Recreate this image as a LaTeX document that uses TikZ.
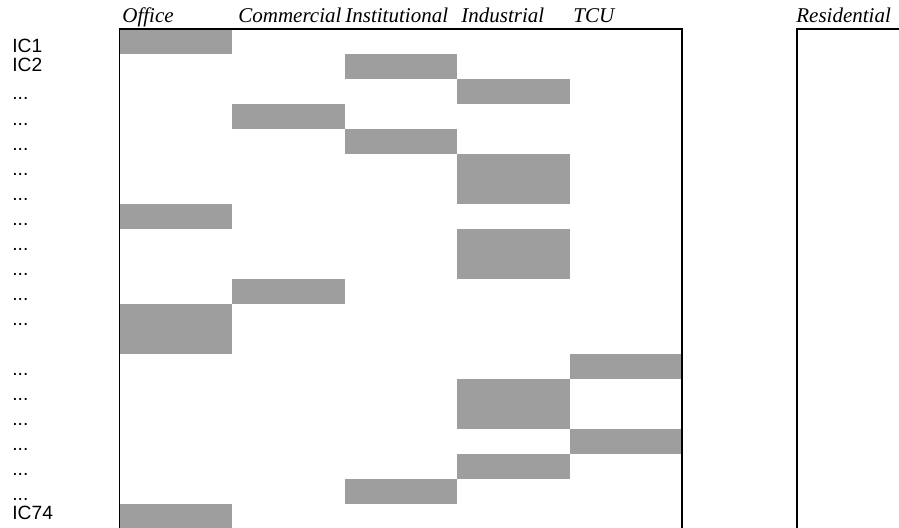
\documentclass[tikz,border=0pt]{standalone}
\usepackage{fontspec}
\setmainfont{Liberation Serif}
\newfontfamily\lblfont{Liberation Sans}
\tikzset{
  hdr/.style   ={anchor=base west, inner sep=0pt, font=\fontsize{10.5}{12}\selectfont\itshape},
  rowlbl/.style={anchor=base west, inner sep=0pt, font=\lblfont\fontsize{9.6}{11}\selectfont},
  cell/.style  ={fill=black!38},
  frm/.style   ={draw=black, line width=0.75pt},
}

\begin{document}
\begin{tikzpicture}[x=0.5pt, y=-0.5pt]
  \clip (0,0) rectangle (899,527);
  \useasboundingbox (0,0) rectangle (899,527);
  \node[hdr] (hOffice) at (122,22) {Office};
  \node[hdr] (hComm)   at (238,22) {Commercial};
  \node[hdr] (hInst)   at (345,22) {Institutional};
  \node[hdr] (hInd)    at (461,22) {Industrial};
  \node[hdr] (hTCU)    at (573,22) {TCU};
  \node[hdr] (hRes)    at (796,22) {Residential};
  \node[rowlbl] (lIC1)  at (12,52.5) {IC1};
  \node[rowlbl] (lIC2)  at (12,71) {IC2};
  \foreach \y [count=\i] in {99,125,150,175,200,225,250,275,300,325,375,400,425,450,475,500}
    \node[rowlbl] (ld\i) at (12,\y) {...};
  \node[rowlbl] (lIC74) at (12,519) {IC74};
  \foreach \r/\n/\c in {1/1/0, 2/1/2, 3/1/3, 4/1/1, 5/1/2, 6/2/3, 8/1/0, 9/2/3,
                        11/1/1, 12/2/0, 14/1/4, 15/2/3, 17/1/4, 18/1/3, 19/1/2, 20/1/0}
    \fill[cell] ({119.5+112.5*\c},{29+25*(\r-1)}) rectangle ++(112.5,{25*\n});
  \draw[frm] (119.5,530) -- (119.5,29) -- (682,29) -- (682,530);
  \draw[frm] (797,530) -- (797,29) -- (902,29);
\end{tikzpicture}
\end{document}
